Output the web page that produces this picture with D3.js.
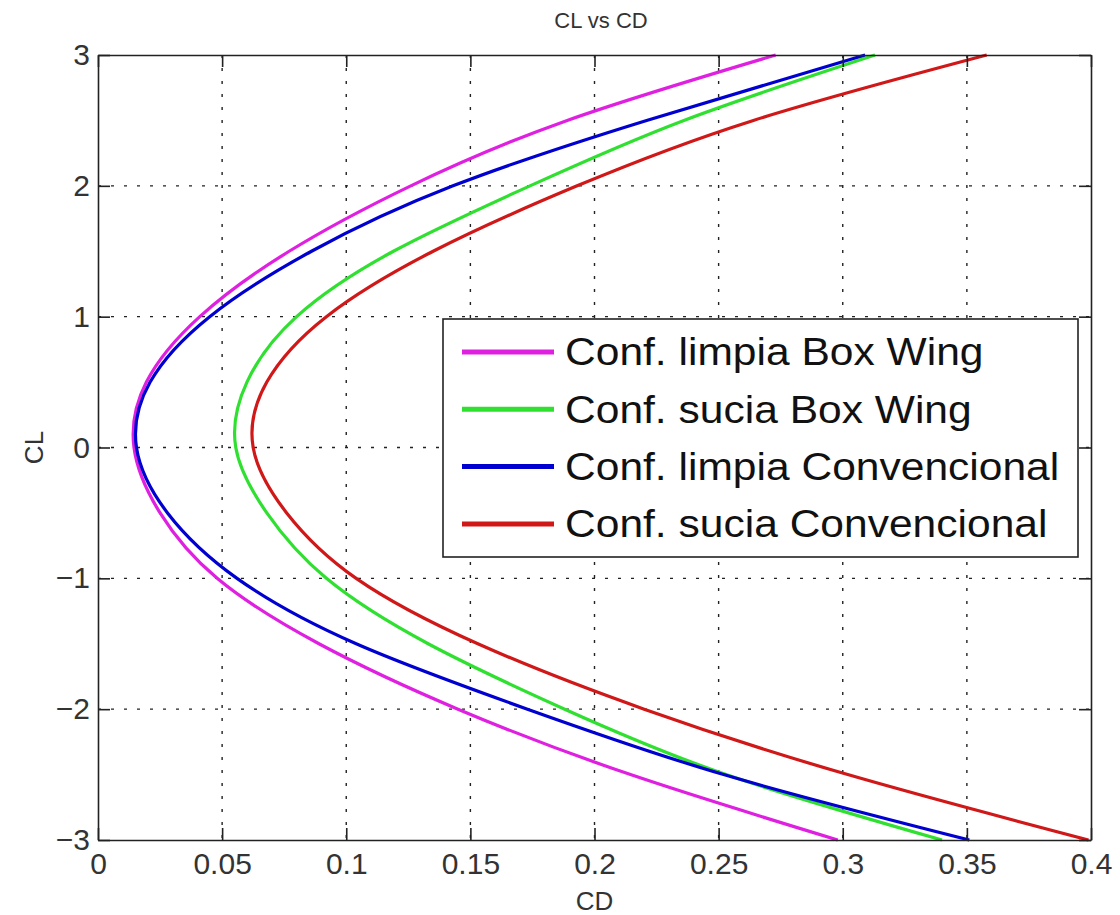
<!DOCTYPE html>
<html>
<head>
<meta charset="utf-8">
<script src="https://cdn.jsdelivr.net/npm/d3@7"></script>
<style>
  body { margin: 0; background: #fff; }
  svg { font-family: "Liberation Sans", Arial, sans-serif; }
</style>
</head>
<body>
<svg id="chart" width="1120" height="915"></svg>
<script>
// CL stations the curves were read at
const cl = [-3, -2.5, -2, -1.5, -1, -0.5, 0, 0.5, 1, 1.5, 2, 2.5, 3];

// CD at each CL
const limpiaBoxWing = [0.298, 0.2145, 0.145, 0.089, 0.048, 0.025, 0.0145, 0.0195, 0.041, 0.077, 0.126, 0.189, 0.273];
const suciaBoxWing = [0.340, 0.253, 0.188, 0.133, 0.092, 0.068, 0.0555, 0.060, 0.080, 0.119, 0.174, 0.236, 0.313];
const limpiaConv = [0.351, 0.252, 0.173, 0.104, 0.056, 0.028, 0.0155, 0.021, 0.045, 0.086, 0.143, 0.221, 0.309];
const suciaConv = [0.399, 0.302, 0.220, 0.153, 0.104, 0.076, 0.0625, 0.068, 0.092, 0.135, 0.193, 0.264, 0.358];

const seriesNames = ['Conf. limpia Box Wing', 'Conf. sucia Box Wing', 'Conf. limpia Convencional', 'Conf. sucia Convencional'];
const seriesColors = ['#e020e0', '#30e030', '#0000d0', '#d01818'];
const seriesValues = [limpiaBoxWing, suciaBoxWing, limpiaConv, suciaConv];

const xTicks = [0, 0.05, 0.1, 0.15, 0.2, 0.25, 0.3, 0.35, 0.4];
const xTickLabels = ['0', '0.05', '0.1', '0.15', '0.2', '0.25', '0.3', '0.35', '0.4'];
const yTicks = [-3, -2, -1, 0, 1, 2, 3];
const yTickLabels = ['\u22123', '\u22122', '\u22121', '0', '1', '2', '3'];

const plotLeft = 98, plotRight = 1091, plotTop = 55, plotBottom = 840;
const svg = d3.select('#chart');

const x = d3.scaleLinear().domain([0, 0.4]).range([plotLeft, plotRight]);
const y = d3.scaleLinear().domain([-3, 3]).range([plotBottom, plotTop]);

// grid (dotted)
const grid = svg.append('g').attr('class', 'grid');
grid.selectAll('line.vx')
  .data(xTicks.slice(1, -1))
  .enter().append('line')
  .attr('x1', d => x(d)).attr('x2', d => x(d))
  .attr('y1', plotTop).attr('y2', plotBottom);
grid.selectAll('line.hy')
  .data(yTicks.slice(1, -1))
  .enter().append('line')
  .attr('y1', d => y(d)).attr('y2', d => y(d))
  .attr('x1', plotLeft).attr('x2', plotRight);
grid.selectAll('line')
  .attr('stroke', '#222')
  .attr('stroke-width', 1.4)
  .attr('stroke-dasharray', '3,10');

// curves
svg.append('clipPath').attr('id', 'clip')
  .append('rect').attr('x', plotLeft).attr('y', plotTop - 2)
  .attr('width', plotRight - plotLeft).attr('height', plotBottom - plotTop + 4);

const line = d3.line()
  .x(d => x(d[1]))
  .y(d => y(d[0]))
  .curve(d3.curveNatural);

svg.append('g').attr('clip-path', 'url(#clip)')
  .selectAll('path')
  .data(seriesValues)
  .enter().append('path')
  .attr('d', vals => line(cl.map((c, i) => [c, vals[i]])))
  .attr('fill', 'none')
  .attr('stroke', (d, i) => seriesColors[i])
  .attr('stroke-width', 3.2);

// axes, ticks inward on all four sides
function styleAxis(g) {
  g.select('.domain').attr('stroke', '#222').attr('stroke-width', 1.6);
  g.selectAll('.tick line').attr('stroke', '#222').attr('stroke-width', 1.6);
  g.selectAll('.tick text')
    .attr('fill', '#333')
    .attr('font-size', 30)
    .attr('font-family', '"Liberation Sans", Arial, sans-serif');
}

svg.append('g')
  .attr('transform', `translate(0,${plotBottom})`)
  .call(d3.axisBottom(x).tickValues(xTicks).tickFormat((d, i) => xTickLabels[i])
    .tickSizeInner(-12).tickSizeOuter(0).tickPadding(13))
  .call(styleAxis);

svg.append('g')
  .attr('transform', `translate(0,${plotTop})`)
  .call(d3.axisTop(x).tickValues(xTicks).tickFormat('')
    .tickSizeInner(-12).tickSizeOuter(0))
  .call(styleAxis);

svg.append('g')
  .attr('transform', `translate(${plotLeft},0)`)
  .call(d3.axisLeft(y).tickValues(yTicks).tickFormat((d, i) => yTickLabels[i])
    .tickSizeInner(-12).tickSizeOuter(0).tickPadding(8))
  .call(styleAxis);

svg.append('g')
  .attr('transform', `translate(${plotRight},0)`)
  .call(d3.axisRight(y).tickValues(yTicks).tickFormat('')
    .tickSizeInner(-12).tickSizeOuter(0))
  .call(styleAxis);

// titles
svg.append('text')
  .attr('x', 601).attr('y', 28)
  .attr('text-anchor', 'middle')
  .attr('font-size', 22).attr('fill', '#333')
  .text('CL vs CD');

svg.append('text')
  .attr('x', (plotLeft + plotRight) / 2).attr('y', 910)
  .attr('text-anchor', 'middle')
  .attr('font-size', 26).attr('fill', '#333')
  .text('CD');

svg.append('text')
  .attr('transform', `translate(43,${(plotTop + plotBottom) / 2}) rotate(-90)`)
  .attr('text-anchor', 'middle')
  .attr('font-size', 26).attr('fill', '#333')
  .text('CL');

// legend
const legend = svg.append('g').attr('transform', 'translate(443,319)');
legend.append('rect')
  .attr('width', 635).attr('height', 238)
  .attr('fill', '#fff')
  .attr('stroke', '#222').attr('stroke-width', 1.6);

const rows = legend.selectAll('g.row')
  .data(seriesNames)
  .enter().append('g')
  .attr('transform', (d, i) => `translate(0,${33 + i * 57.3})`);

rows.append('line')
  .attr('x1', 19).attr('x2', 111)
  .attr('stroke', (d, i) => seriesColors[i])
  .attr('stroke-width', 5);

rows.append('text')
  .attr('transform', 'translate(122,0) scale(1.12,1)')
  .attr('dy', '0.35em')
  .attr('font-size', 38).attr('fill', '#111')
  .text(d => d);
</script>
</body>
</html>
